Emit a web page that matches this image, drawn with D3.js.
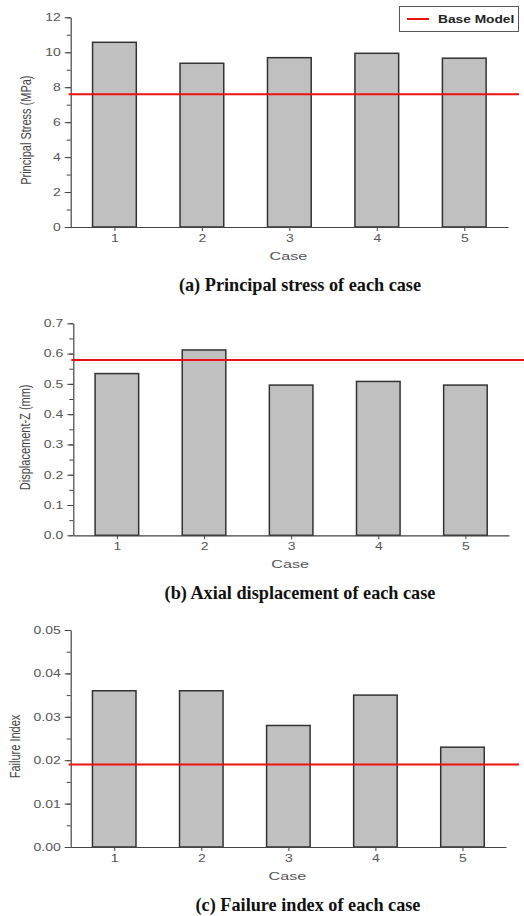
<!DOCTYPE html>
<html>
<head>
<meta charset="utf-8">
<script src="https://cdn.jsdelivr.net/npm/d3@7"></script>
<style>
  body { margin: 0; background: #fff; }
  svg { display: block; }
  .tick text { fill: #555; }
</style>
</head>
<body>
<svg id="chart" width="524" height="916"></svg>
<script>
// data
const cases = [1, 2, 3, 4, 5]
const principalStress = [10.57, 9.37, 9.69, 9.94, 9.66]
const displacementZ = [0.534, 0.612, 0.496, 0.508, 0.496]
const failureIndex = [0.036, 0.036, 0.028, 0.035, 0.023]
const baseStress = 7.6
const baseDisplacement = 0.579
const baseFailure = 0.019

const stressTicks = [0, 2, 4, 6, 8, 10, 12]
const dispTicks = [0, 0.1, 0.2, 0.3, 0.4, 0.5, 0.6, 0.7]
const failTicks = [0, 0.01, 0.02, 0.03, 0.04, 0.05]

const panels = [
  { values: principalStress, base: baseStress, ticks: stressTicks, step: 1, fmt: d3.format('d'),
    yTitle: 'Principal Stress (MPa)', caption: '(a) Principal stress of each case',
    left: 70.7, right: 508, top: 17.3, bottom: 227, lineEnd: 519, titleX: 27, captionX: 300, legend: true },
  { values: displacementZ, base: baseDisplacement, ticks: dispTicks, step: 0.05, fmt: d3.format('.1f'),
    yTitle: 'Displacement-Z (mm)', caption: '(b) Axial displacement of each case',
    left: 73.3, right: 509, top: 323.3, bottom: 535.3, lineEnd: 524, titleX: 26, captionX: 300, legend: false },
  { values: failureIndex, base: baseFailure, ticks: failTicks, step: 0.005, fmt: d3.format('.2f'),
    yTitle: 'Failure Index', caption: '(c) Failure index of each case',
    left: 70.7, right: 506, top: 630, bottom: 847, lineEnd: 519, titleX: 16, captionX: 308, legend: false }
]

const svg = d3.select('#chart')
const sx = 1.4  // the figure is stretched sideways

panels.forEach(p => {
  const g = svg.append('g')
  const yMax = p.ticks[p.ticks.length - 1]

  const x = d3.scaleLinear().domain([0.5, 5.5]).range([p.left, p.right])
  const y = d3.scaleLinear().domain([0, yMax]).range([p.bottom, p.top])
  const bw = (x(2) - x(1)) * 0.5

  // bars
  g.selectAll('rect.bar')
    .data(p.values)
    .enter()
    .append('rect')
    .attr('class', 'bar')
    .attr('x', (d, i) => x(cases[i]) - bw / 2)
    .attr('y', d => y(d))
    .attr('width', bw)
    .attr('height', d => y(0) - y(d))
    .attr('fill', '#c0c0c0')
    .attr('stroke', '#333')
    .attr('stroke-width', 1.5)

  // minor y ticks
  const minor = d3.range(0, yMax + p.step / 2, p.step)
  const yMinor = d3.axisLeft(y).tickValues(minor).tickSize(4).tickFormat('')
  g.append('g')
    .attr('transform', `translate(${p.left},0)`)
    .call(yMinor)
    .call(a => a.select('.domain').remove())
    .call(a => a.selectAll('line').attr('stroke', '#444'))

  // y axis
  const yAxis = d3.axisLeft(y).tickValues(p.ticks).tickFormat(p.fmt).tickSize(6).tickSizeOuter(0)
  const ya = g.append('g')
    .attr('transform', `translate(${p.left},0)`)
    .call(yAxis)
  ya.select('.domain').attr('stroke', '#444').attr('stroke-width', 1.2)
  ya.selectAll('line').attr('stroke', '#444')
  ya.selectAll('.tick text')
    .attr('font-family', 'Liberation Sans, Arial, sans-serif')
    .attr('font-size', 10)
    .attr('x', 0).attr('dy', '0.34em')
    .attr('transform', `translate(-10,0) scale(${sx},1)`)

  // x axis
  const xAxis = d3.axisBottom(x).tickValues(cases).tickFormat(d3.format('d')).tickSize(4).tickSizeOuter(0)
  const xa = g.append('g')
    .attr('transform', `translate(0,${p.bottom})`)
    .call(xAxis)
  xa.select('.domain').attr('stroke', '#444').attr('stroke-width', 1.2)
  xa.selectAll('line').attr('stroke', '#444')
  xa.selectAll('.tick text')
    .attr('font-family', 'Liberation Sans, Arial, sans-serif')
    .attr('font-size', 10)
    .attr('y', 0).attr('dy', 0)
    .attr('transform', `translate(0,15) scale(${sx},1)`)

  // base model line
  g.append('line')
    .attr('x1', p.left - 2).attr('x2', p.lineEnd)
    .attr('y1', y(p.base)).attr('y2', y(p.base))
    .attr('stroke', '#ee1111')
    .attr('stroke-width', 2)

  // axis titles
  g.append('text')
    .attr('transform', `translate(${(p.left + p.right) / 2 - 1},${p.bottom + 33}) scale(${sx},1)`)
    .attr('text-anchor', 'middle')
    .attr('font-family', 'Liberation Sans, Arial, sans-serif')
    .attr('font-size', 11.5)
    .attr('fill', '#555')
    .text('Case')

  g.append('text')
    .attr('transform', `translate(${p.titleX + 4},${(p.top + p.bottom) / 2 + 8}) scale(${sx},1) rotate(-90)`)
    .attr('text-anchor', 'middle')
    .attr('font-family', 'Liberation Sans, Arial, sans-serif')
    .attr('font-size', 11)
    .attr('fill', '#444')
    .text(p.yTitle)

  // caption
  g.append('text')
    .attr('transform', `translate(${p.captionX},${p.bottom + 64}) scale(0.96,1)`)
    .attr('text-anchor', 'middle')
    .attr('font-family', 'Liberation Serif, Times New Roman, serif')
    .attr('font-weight', 'bold')
    .attr('font-size', 19)
    .attr('fill', '#111')
    .text(p.caption)

  if (p.legend) {
    const lg = g.append('g')
    lg.append('rect')
      .attr('x', 399.5).attr('y', 6.5)
      .attr('width', 119).attr('height', 25)
      .attr('fill', '#fff')
      .attr('stroke', '#555')
      .attr('stroke-width', 1)
    lg.append('line')
      .attr('x1', 407).attr('x2', 429)
      .attr('y1', 19).attr('y2', 19)
      .attr('stroke', '#ee1111')
      .attr('stroke-width', 2)
    lg.append('text')
      .attr('transform', `translate(438,23) scale(1.25,1)`)
      .attr('font-family', 'Liberation Sans, Arial, sans-serif')
      .attr('font-weight', 'bold')
      .attr('font-size', 11)
      .attr('fill', '#222')
      .text('Base Model')
  }
})
</script>
</body>
</html>
